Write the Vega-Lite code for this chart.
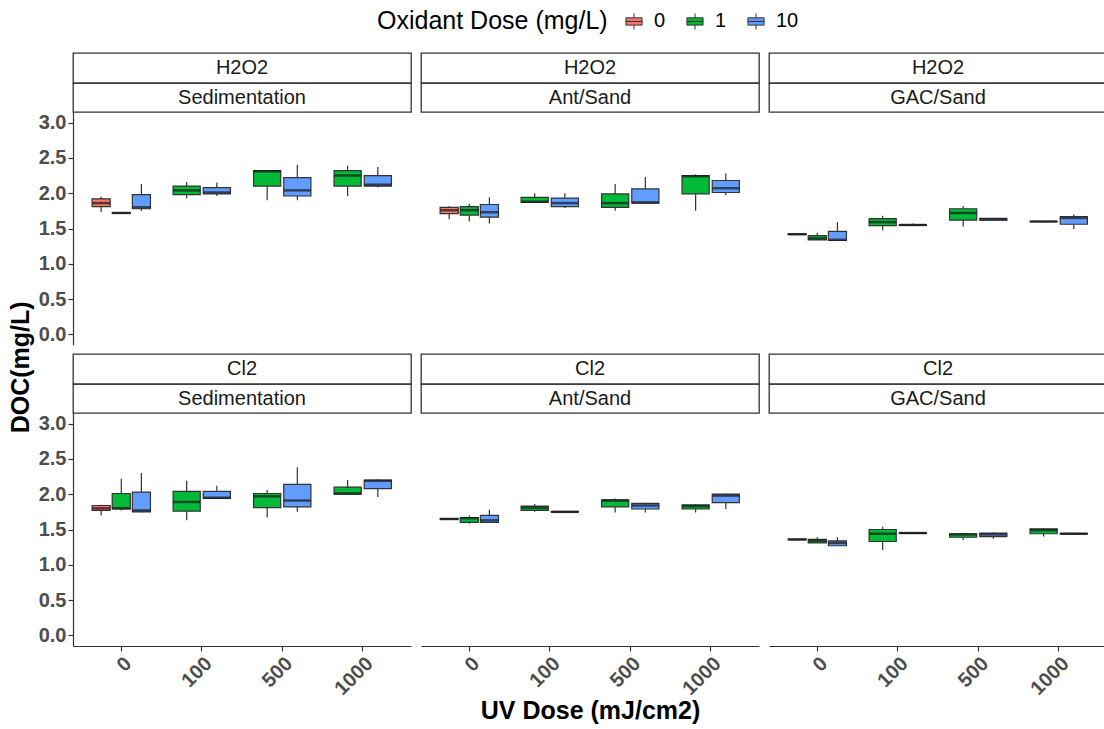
{
"$schema":"https://vega.github.io/schema/vega-lite/v6.json",
"padding":{"left":9,"top":11,"right":0,"bottom":1},
"datasets":{"box":[
{"o":"H2O2","t":"Sedimentation","u":"0","d":"0","lo":1.73,"q1":1.81,"md":1.86,"q3":1.92,"hi":1.95},
{"o":"H2O2","t":"Sedimentation","u":"0","d":"1","lo":1.715,"q1":1.715,"md":1.72,"q3":1.725,"hi":1.725},
{"o":"H2O2","t":"Sedimentation","u":"0","d":"10","lo":1.75,"q1":1.78,"md":1.80,"q3":1.98,"hi":2.13},
{"o":"H2O2","t":"Sedimentation","u":"100","d":"1","lo":1.93,"q1":1.98,"md":2.04,"q3":2.10,"hi":2.16},
{"o":"H2O2","t":"Sedimentation","u":"100","d":"10","lo":1.96,"q1":1.99,"md":2.01,"q3":2.08,"hi":2.15},
{"o":"H2O2","t":"Sedimentation","u":"500","d":"1","lo":1.90,"q1":2.10,"md":2.31,"q3":2.32,"hi":2.32},
{"o":"H2O2","t":"Sedimentation","u":"500","d":"10","lo":1.90,"q1":1.96,"md":2.04,"q3":2.22,"hi":2.40},
{"o":"H2O2","t":"Sedimentation","u":"1000","d":"1","lo":1.96,"q1":2.10,"md":2.25,"q3":2.32,"hi":2.39},
{"o":"H2O2","t":"Sedimentation","u":"1000","d":"10","lo":2.08,"q1":2.10,"md":2.12,"q3":2.25,"hi":2.37},
{"o":"H2O2","t":"Ant/Sand","u":"0","d":"0","lo":1.63,"q1":1.71,"md":1.76,"q3":1.80,"hi":1.82},
{"o":"H2O2","t":"Ant/Sand","u":"0","d":"1","lo":1.60,"q1":1.69,"md":1.76,"q3":1.81,"hi":1.85},
{"o":"H2O2","t":"Ant/Sand","u":"0","d":"10","lo":1.57,"q1":1.66,"md":1.73,"q3":1.84,"hi":1.94},
{"o":"H2O2","t":"Ant/Sand","u":"100","d":"1","lo":1.86,"q1":1.87,"md":1.88,"q3":1.94,"hi":2.00},
{"o":"H2O2","t":"Ant/Sand","u":"100","d":"10","lo":1.79,"q1":1.81,"md":1.86,"q3":1.93,"hi":2.00},
{"o":"H2O2","t":"Ant/Sand","u":"500","d":"1","lo":1.75,"q1":1.80,"md":1.86,"q3":1.99,"hi":2.13},
{"o":"H2O2","t":"Ant/Sand","u":"500","d":"10","lo":1.86,"q1":1.86,"md":1.87,"q3":2.06,"hi":2.23},
{"o":"H2O2","t":"Ant/Sand","u":"1000","d":"1","lo":1.75,"q1":1.99,"md":2.24,"q3":2.25,"hi":2.27},
{"o":"H2O2","t":"Ant/Sand","u":"1000","d":"10","lo":1.97,"q1":2.01,"md":2.07,"q3":2.18,"hi":2.28},
{"o":"H2O2","t":"GAC/Sand","u":"0","d":"0","lo":1.415,"q1":1.415,"md":1.42,"q3":1.425,"hi":1.425},
{"o":"H2O2","t":"GAC/Sand","u":"0","d":"1","lo":1.34,"q1":1.34,"md":1.36,"q3":1.40,"hi":1.44},
{"o":"H2O2","t":"GAC/Sand","u":"0","d":"10","lo":1.33,"q1":1.33,"md":1.34,"q3":1.46,"hi":1.59},
{"o":"H2O2","t":"GAC/Sand","u":"100","d":"1","lo":1.47,"q1":1.54,"md":1.59,"q3":1.64,"hi":1.68},
{"o":"H2O2","t":"GAC/Sand","u":"100","d":"10","lo":1.545,"q1":1.545,"md":1.55,"q3":1.555,"hi":1.57},
{"o":"H2O2","t":"GAC/Sand","u":"500","d":"1","lo":1.53,"q1":1.62,"md":1.72,"q3":1.78,"hi":1.82},
{"o":"H2O2","t":"GAC/Sand","u":"500","d":"10","lo":1.62,"q1":1.62,"md":1.63,"q3":1.645,"hi":1.65},
{"o":"H2O2","t":"GAC/Sand","u":"1000","d":"1","lo":1.59,"q1":1.595,"md":1.60,"q3":1.60,"hi":1.60},
{"o":"H2O2","t":"GAC/Sand","u":"1000","d":"10","lo":1.49,"q1":1.56,"md":1.65,"q3":1.67,"hi":1.70},
{"o":"Cl2","t":"Sedimentation","u":"0","d":"0","lo":1.70,"q1":1.77,"md":1.80,"q3":1.84,"hi":1.85},
{"o":"Cl2","t":"Sedimentation","u":"0","d":"1","lo":1.77,"q1":1.79,"md":1.80,"q3":2.01,"hi":2.22},
{"o":"Cl2","t":"Sedimentation","u":"0","d":"10","lo":1.74,"q1":1.75,"md":1.77,"q3":2.03,"hi":2.30},
{"o":"Cl2","t":"Sedimentation","u":"100","d":"1","lo":1.63,"q1":1.76,"md":1.89,"q3":2.04,"hi":2.19},
{"o":"Cl2","t":"Sedimentation","u":"100","d":"10","lo":1.94,"q1":1.94,"md":1.95,"q3":2.04,"hi":2.12},
{"o":"Cl2","t":"Sedimentation","u":"500","d":"1","lo":1.67,"q1":1.81,"md":1.97,"q3":2.01,"hi":2.06},
{"o":"Cl2","t":"Sedimentation","u":"500","d":"10","lo":1.75,"q1":1.82,"md":1.91,"q3":2.14,"hi":2.38},
{"o":"Cl2","t":"Sedimentation","u":"1000","d":"1","lo":2.00,"q1":2.00,"md":2.01,"q3":2.10,"hi":2.20},
{"o":"Cl2","t":"Sedimentation","u":"1000","d":"10","lo":1.96,"q1":2.08,"md":2.19,"q3":2.20,"hi":2.21},
{"o":"Cl2","t":"Ant/Sand","u":"0","d":"0","lo":1.64,"q1":1.645,"md":1.65,"q3":1.655,"hi":1.66},
{"o":"Cl2","t":"Ant/Sand","u":"0","d":"1","lo":1.58,"q1":1.60,"md":1.66,"q3":1.67,"hi":1.70},
{"o":"Cl2","t":"Ant/Sand","u":"0","d":"10","lo":1.60,"q1":1.60,"md":1.63,"q3":1.70,"hi":1.78},
{"o":"Cl2","t":"Ant/Sand","u":"100","d":"1","lo":1.75,"q1":1.77,"md":1.81,"q3":1.83,"hi":1.86},
{"o":"Cl2","t":"Ant/Sand","u":"100","d":"10","lo":1.745,"q1":1.745,"md":1.75,"q3":1.755,"hi":1.76},
{"o":"Cl2","t":"Ant/Sand","u":"500","d":"1","lo":1.74,"q1":1.82,"md":1.91,"q3":1.92,"hi":1.94},
{"o":"Cl2","t":"Ant/Sand","u":"500","d":"10","lo":1.74,"q1":1.79,"md":1.84,"q3":1.87,"hi":1.88},
{"o":"Cl2","t":"Ant/Sand","u":"1000","d":"1","lo":1.74,"q1":1.79,"md":1.83,"q3":1.85,"hi":1.86},
{"o":"Cl2","t":"Ant/Sand","u":"1000","d":"10","lo":1.79,"q1":1.88,"md":1.98,"q3":2.00,"hi":2.01},
{"o":"Cl2","t":"GAC/Sand","u":"0","d":"0","lo":1.355,"q1":1.355,"md":1.36,"q3":1.365,"hi":1.365},
{"o":"Cl2","t":"GAC/Sand","u":"0","d":"1","lo":1.31,"q1":1.31,"md":1.34,"q3":1.36,"hi":1.39},
{"o":"Cl2","t":"GAC/Sand","u":"0","d":"10","lo":1.27,"q1":1.27,"md":1.31,"q3":1.34,"hi":1.39},
{"o":"Cl2","t":"GAC/Sand","u":"100","d":"1","lo":1.21,"q1":1.33,"md":1.44,"q3":1.50,"hi":1.54},
{"o":"Cl2","t":"GAC/Sand","u":"100","d":"10","lo":1.445,"q1":1.445,"md":1.45,"q3":1.455,"hi":1.455},
{"o":"Cl2","t":"GAC/Sand","u":"500","d":"1","lo":1.35,"q1":1.39,"md":1.43,"q3":1.44,"hi":1.45},
{"o":"Cl2","t":"GAC/Sand","u":"500","d":"10","lo":1.37,"q1":1.40,"md":1.43,"q3":1.45,"hi":1.46},
{"o":"Cl2","t":"GAC/Sand","u":"1000","d":"1","lo":1.40,"q1":1.44,"md":1.49,"q3":1.51,"hi":1.52},
{"o":"Cl2","t":"GAC/Sand","u":"1000","d":"10","lo":1.435,"q1":1.435,"md":1.44,"q3":1.445,"hi":1.445}
]},
"data":{"name":"box"},
"title":{"text":"DOC(mg/L)","orient":"left","anchor":"middle","frame":"bounds","fontSize":25,"fontWeight":"bold","color":"#000000","offset":4},
"vconcat":[
{"hconcat":[
{"vconcat":[
{"width":338,"height":30,"view":{"stroke":"#333333","strokeWidth":1.3},"transform":[{"filter":"datum.o == 'H2O2' && datum.t == 'Sedimentation'"},{"aggregate":[{"op":"count","as":"c"}],"groupby":["o"]}],"mark":{"type":"text","fontSize":20,"color":"#1a1a1a"},"encoding":{"text":{"field":"o"}}},
{"width":338,"height":29,"view":{"stroke":"#333333","strokeWidth":1.3},"transform":[{"filter":"datum.o == 'H2O2' && datum.t == 'Sedimentation'"},{"aggregate":[{"op":"count","as":"c"}],"groupby":["t"]}],"mark":{"type":"text","fontSize":20,"color":"#1a1a1a"},"encoding":{"text":{"field":"t"}}},
{"width":338,"height":233,
 "transform":[{"filter":"datum.o == 'H2O2' && datum.t == 'Sedimentation'"},{"joinaggregate":[{"op":"count","as":"n"}],"groupby":["u"]}],
 "encoding":{"x":{"field":"u","type":"nominal","title":null,"scale":{"domain":["0","100","500","1000"],"paddingInner":0.25,"paddingOuter":0.225},"axis":null}},
 "layer":[
  {"transform":[{"filter":"datum.n == 3"}],"encoding":{"xOffset":{"field":"d","type":"nominal","scale":{"domain":["0","1","10"],"paddingInner":0.1,"paddingOuter":0.05}}},
   "layer":[
    {"mark":{"type":"rule","color":"#333333","strokeWidth":1.2},"encoding":{"y":{"field":"lo","type":"quantitative","title":null,"scale":{"domain":[-0.15,3.15],"nice":false},"axis":{"values":[0,0.5,1,1.5,2,2.5,3],"format":".1f"}},"y2":{"field":"hi"}}},
    {"mark":{"type":"bar","stroke":"#333333","strokeWidth":1.2},"encoding":{"y":{"field":"q1","type":"quantitative","title":null,"scale":{"domain":[-0.15,3.15],"nice":false},"axis":{"values":[0,0.5,1,1.5,2,2.5,3],"format":".1f"}},"y2":{"field":"q3"},"fill":{"field":"d","type":"nominal","title":"Oxidant Dose (mg/L)","scale":{"domain":["0","1","10"],"range":["#F8766D","#00BA38","#619CFF"]}}}},
    {"mark":{"type":"tick","color":"#1a1a1a","thickness":2.5,"size":18},"encoding":{"y":{"field":"md","type":"quantitative","title":null,"scale":{"domain":[-0.15,3.15],"nice":false},"axis":{"values":[0,0.5,1,1.5,2,2.5,3],"format":".1f"}}}}
   ]},
  {"transform":[{"filter":"datum.n == 2"}],"encoding":{"xOffset":{"field":"d","type":"nominal","scale":{"domain":["1","10"],"paddingInner":0.1,"paddingOuter":0.05}}},
   "layer":[
    {"mark":{"type":"rule","color":"#333333","strokeWidth":1.2},"encoding":{"y":{"field":"lo","type":"quantitative","title":null,"scale":{"domain":[-0.15,3.15],"nice":false},"axis":{"values":[0,0.5,1,1.5,2,2.5,3],"format":".1f"}},"y2":{"field":"hi"}}},
    {"mark":{"type":"bar","stroke":"#333333","strokeWidth":1.2},"encoding":{"y":{"field":"q1","type":"quantitative","title":null,"scale":{"domain":[-0.15,3.15],"nice":false},"axis":{"values":[0,0.5,1,1.5,2,2.5,3],"format":".1f"}},"y2":{"field":"q3"},"fill":{"field":"d","type":"nominal","title":"Oxidant Dose (mg/L)","scale":{"domain":["0","1","10"],"range":["#F8766D","#00BA38","#619CFF"]}}}},
    {"mark":{"type":"tick","color":"#1a1a1a","thickness":2.5,"size":27},"encoding":{"y":{"field":"md","type":"quantitative","title":null,"scale":{"domain":[-0.15,3.15],"nice":false},"axis":{"values":[0,0.5,1,1.5,2,2.5,3],"format":".1f"}}}}
   ]}
 ],
 "resolve":{"scale":{"xOffset":"independent"}}}
],"spacing":0,"bounds":"flush"},
{"vconcat":[
{"width":338,"height":30,"view":{"stroke":"#333333","strokeWidth":1.3},"transform":[{"filter":"datum.o == 'H2O2' && datum.t == 'Ant/Sand'"},{"aggregate":[{"op":"count","as":"c"}],"groupby":["o"]}],"mark":{"type":"text","fontSize":20,"color":"#1a1a1a"},"encoding":{"text":{"field":"o"}}},
{"width":338,"height":29,"view":{"stroke":"#333333","strokeWidth":1.3},"transform":[{"filter":"datum.o == 'H2O2' && datum.t == 'Ant/Sand'"},{"aggregate":[{"op":"count","as":"c"}],"groupby":["t"]}],"mark":{"type":"text","fontSize":20,"color":"#1a1a1a"},"encoding":{"text":{"field":"t"}}},
{"width":338,"height":233,
 "transform":[{"filter":"datum.o == 'H2O2' && datum.t == 'Ant/Sand'"},{"joinaggregate":[{"op":"count","as":"n"}],"groupby":["u"]}],
 "encoding":{"x":{"field":"u","type":"nominal","title":null,"scale":{"domain":["0","100","500","1000"],"paddingInner":0.25,"paddingOuter":0.225},"axis":null}},
 "layer":[
  {"transform":[{"filter":"datum.n == 3"}],"encoding":{"xOffset":{"field":"d","type":"nominal","scale":{"domain":["0","1","10"],"paddingInner":0.1,"paddingOuter":0.05}}},
   "layer":[
    {"mark":{"type":"rule","color":"#333333","strokeWidth":1.2},"encoding":{"y":{"field":"lo","type":"quantitative","title":null,"scale":{"domain":[-0.15,3.15],"nice":false},"axis":null},"y2":{"field":"hi"}}},
    {"mark":{"type":"bar","stroke":"#333333","strokeWidth":1.2},"encoding":{"y":{"field":"q1","type":"quantitative","title":null,"scale":{"domain":[-0.15,3.15],"nice":false},"axis":null},"y2":{"field":"q3"},"fill":{"field":"d","type":"nominal","title":"Oxidant Dose (mg/L)","scale":{"domain":["0","1","10"],"range":["#F8766D","#00BA38","#619CFF"]}}}},
    {"mark":{"type":"tick","color":"#1a1a1a","thickness":2.5,"size":18},"encoding":{"y":{"field":"md","type":"quantitative","title":null,"scale":{"domain":[-0.15,3.15],"nice":false},"axis":null}}}
   ]},
  {"transform":[{"filter":"datum.n == 2"}],"encoding":{"xOffset":{"field":"d","type":"nominal","scale":{"domain":["1","10"],"paddingInner":0.1,"paddingOuter":0.05}}},
   "layer":[
    {"mark":{"type":"rule","color":"#333333","strokeWidth":1.2},"encoding":{"y":{"field":"lo","type":"quantitative","title":null,"scale":{"domain":[-0.15,3.15],"nice":false},"axis":null},"y2":{"field":"hi"}}},
    {"mark":{"type":"bar","stroke":"#333333","strokeWidth":1.2},"encoding":{"y":{"field":"q1","type":"quantitative","title":null,"scale":{"domain":[-0.15,3.15],"nice":false},"axis":null},"y2":{"field":"q3"},"fill":{"field":"d","type":"nominal","title":"Oxidant Dose (mg/L)","scale":{"domain":["0","1","10"],"range":["#F8766D","#00BA38","#619CFF"]}}}},
    {"mark":{"type":"tick","color":"#1a1a1a","thickness":2.5,"size":27},"encoding":{"y":{"field":"md","type":"quantitative","title":null,"scale":{"domain":[-0.15,3.15],"nice":false},"axis":null}}}
   ]}
 ],
 "resolve":{"scale":{"xOffset":"independent"}}}
],"spacing":0,"bounds":"flush"},
{"vconcat":[
{"width":338,"height":30,"view":{"stroke":"#333333","strokeWidth":1.3},"transform":[{"filter":"datum.o == 'H2O2' && datum.t == 'GAC/Sand'"},{"aggregate":[{"op":"count","as":"c"}],"groupby":["o"]}],"mark":{"type":"text","fontSize":20,"color":"#1a1a1a"},"encoding":{"text":{"field":"o"}}},
{"width":338,"height":29,"view":{"stroke":"#333333","strokeWidth":1.3},"transform":[{"filter":"datum.o == 'H2O2' && datum.t == 'GAC/Sand'"},{"aggregate":[{"op":"count","as":"c"}],"groupby":["t"]}],"mark":{"type":"text","fontSize":20,"color":"#1a1a1a"},"encoding":{"text":{"field":"t"}}},
{"width":338,"height":233,
 "transform":[{"filter":"datum.o == 'H2O2' && datum.t == 'GAC/Sand'"},{"joinaggregate":[{"op":"count","as":"n"}],"groupby":["u"]}],
 "encoding":{"x":{"field":"u","type":"nominal","title":null,"scale":{"domain":["0","100","500","1000"],"paddingInner":0.25,"paddingOuter":0.225},"axis":null}},
 "layer":[
  {"transform":[{"filter":"datum.n == 3"}],"encoding":{"xOffset":{"field":"d","type":"nominal","scale":{"domain":["0","1","10"],"paddingInner":0.1,"paddingOuter":0.05}}},
   "layer":[
    {"mark":{"type":"rule","color":"#333333","strokeWidth":1.2},"encoding":{"y":{"field":"lo","type":"quantitative","title":null,"scale":{"domain":[-0.15,3.15],"nice":false},"axis":null},"y2":{"field":"hi"}}},
    {"mark":{"type":"bar","stroke":"#333333","strokeWidth":1.2},"encoding":{"y":{"field":"q1","type":"quantitative","title":null,"scale":{"domain":[-0.15,3.15],"nice":false},"axis":null},"y2":{"field":"q3"},"fill":{"field":"d","type":"nominal","title":"Oxidant Dose (mg/L)","scale":{"domain":["0","1","10"],"range":["#F8766D","#00BA38","#619CFF"]}}}},
    {"mark":{"type":"tick","color":"#1a1a1a","thickness":2.5,"size":18},"encoding":{"y":{"field":"md","type":"quantitative","title":null,"scale":{"domain":[-0.15,3.15],"nice":false},"axis":null}}}
   ]},
  {"transform":[{"filter":"datum.n == 2"}],"encoding":{"xOffset":{"field":"d","type":"nominal","scale":{"domain":["1","10"],"paddingInner":0.1,"paddingOuter":0.05}}},
   "layer":[
    {"mark":{"type":"rule","color":"#333333","strokeWidth":1.2},"encoding":{"y":{"field":"lo","type":"quantitative","title":null,"scale":{"domain":[-0.15,3.15],"nice":false},"axis":null},"y2":{"field":"hi"}}},
    {"mark":{"type":"bar","stroke":"#333333","strokeWidth":1.2},"encoding":{"y":{"field":"q1","type":"quantitative","title":null,"scale":{"domain":[-0.15,3.15],"nice":false},"axis":null},"y2":{"field":"q3"},"fill":{"field":"d","type":"nominal","title":"Oxidant Dose (mg/L)","scale":{"domain":["0","1","10"],"range":["#F8766D","#00BA38","#619CFF"]}}}},
    {"mark":{"type":"tick","color":"#1a1a1a","thickness":2.5,"size":27},"encoding":{"y":{"field":"md","type":"quantitative","title":null,"scale":{"domain":[-0.15,3.15],"nice":false},"axis":null}}}
   ]}
 ],
 "resolve":{"scale":{"xOffset":"independent"}}}
],"spacing":0,"bounds":"flush"}
],"spacing":8,"resolve":{"scale":{"x":"independent","y":"independent","xOffset":"independent"}}},
{"hconcat":[
{"vconcat":[
{"width":338,"height":30,"view":{"stroke":"#333333","strokeWidth":1.3},"transform":[{"filter":"datum.o == 'Cl2' && datum.t == 'Sedimentation'"},{"aggregate":[{"op":"count","as":"c"}],"groupby":["o"]}],"mark":{"type":"text","fontSize":20,"color":"#1a1a1a"},"encoding":{"text":{"field":"o"}}},
{"width":338,"height":29,"view":{"stroke":"#333333","strokeWidth":1.3},"transform":[{"filter":"datum.o == 'Cl2' && datum.t == 'Sedimentation'"},{"aggregate":[{"op":"count","as":"c"}],"groupby":["t"]}],"mark":{"type":"text","fontSize":20,"color":"#1a1a1a"},"encoding":{"text":{"field":"t"}}},
{"width":338,"height":233,
 "transform":[{"filter":"datum.o == 'Cl2' && datum.t == 'Sedimentation'"},{"joinaggregate":[{"op":"count","as":"n"}],"groupby":["u"]}],
 "encoding":{"x":{"field":"u","type":"nominal","title":null,"scale":{"domain":["0","100","500","1000"],"paddingInner":0.25,"paddingOuter":0.225},"axis":{"labelAngle":-45,"labelAlign":"right","labelBaseline":"top"}}},
 "layer":[
  {"transform":[{"filter":"datum.n == 3"}],"encoding":{"xOffset":{"field":"d","type":"nominal","scale":{"domain":["0","1","10"],"paddingInner":0.1,"paddingOuter":0.05}}},
   "layer":[
    {"mark":{"type":"rule","color":"#333333","strokeWidth":1.2},"encoding":{"y":{"field":"lo","type":"quantitative","title":null,"scale":{"domain":[-0.15,3.15],"nice":false},"axis":{"values":[0,0.5,1,1.5,2,2.5,3],"format":".1f"}},"y2":{"field":"hi"}}},
    {"mark":{"type":"bar","stroke":"#333333","strokeWidth":1.2},"encoding":{"y":{"field":"q1","type":"quantitative","title":null,"scale":{"domain":[-0.15,3.15],"nice":false},"axis":{"values":[0,0.5,1,1.5,2,2.5,3],"format":".1f"}},"y2":{"field":"q3"},"fill":{"field":"d","type":"nominal","title":"Oxidant Dose (mg/L)","scale":{"domain":["0","1","10"],"range":["#F8766D","#00BA38","#619CFF"]}}}},
    {"mark":{"type":"tick","color":"#1a1a1a","thickness":2.5,"size":18},"encoding":{"y":{"field":"md","type":"quantitative","title":null,"scale":{"domain":[-0.15,3.15],"nice":false},"axis":{"values":[0,0.5,1,1.5,2,2.5,3],"format":".1f"}}}}
   ]},
  {"transform":[{"filter":"datum.n == 2"}],"encoding":{"xOffset":{"field":"d","type":"nominal","scale":{"domain":["1","10"],"paddingInner":0.1,"paddingOuter":0.05}}},
   "layer":[
    {"mark":{"type":"rule","color":"#333333","strokeWidth":1.2},"encoding":{"y":{"field":"lo","type":"quantitative","title":null,"scale":{"domain":[-0.15,3.15],"nice":false},"axis":{"values":[0,0.5,1,1.5,2,2.5,3],"format":".1f"}},"y2":{"field":"hi"}}},
    {"mark":{"type":"bar","stroke":"#333333","strokeWidth":1.2},"encoding":{"y":{"field":"q1","type":"quantitative","title":null,"scale":{"domain":[-0.15,3.15],"nice":false},"axis":{"values":[0,0.5,1,1.5,2,2.5,3],"format":".1f"}},"y2":{"field":"q3"},"fill":{"field":"d","type":"nominal","title":"Oxidant Dose (mg/L)","scale":{"domain":["0","1","10"],"range":["#F8766D","#00BA38","#619CFF"]}}}},
    {"mark":{"type":"tick","color":"#1a1a1a","thickness":2.5,"size":27},"encoding":{"y":{"field":"md","type":"quantitative","title":null,"scale":{"domain":[-0.15,3.15],"nice":false},"axis":{"values":[0,0.5,1,1.5,2,2.5,3],"format":".1f"}}}}
   ]}
 ],
 "resolve":{"scale":{"xOffset":"independent"}}}
],"spacing":0,"bounds":"flush"},
{"vconcat":[
{"width":338,"height":30,"view":{"stroke":"#333333","strokeWidth":1.3},"transform":[{"filter":"datum.o == 'Cl2' && datum.t == 'Ant/Sand'"},{"aggregate":[{"op":"count","as":"c"}],"groupby":["o"]}],"mark":{"type":"text","fontSize":20,"color":"#1a1a1a"},"encoding":{"text":{"field":"o"}}},
{"width":338,"height":29,"view":{"stroke":"#333333","strokeWidth":1.3},"transform":[{"filter":"datum.o == 'Cl2' && datum.t == 'Ant/Sand'"},{"aggregate":[{"op":"count","as":"c"}],"groupby":["t"]}],"mark":{"type":"text","fontSize":20,"color":"#1a1a1a"},"encoding":{"text":{"field":"t"}}},
{"width":338,"height":233,
 "transform":[{"filter":"datum.o == 'Cl2' && datum.t == 'Ant/Sand'"},{"joinaggregate":[{"op":"count","as":"n"}],"groupby":["u"]}],
 "encoding":{"x":{"field":"u","type":"nominal","title":"UV Dose (mJ/cm2)","scale":{"domain":["0","100","500","1000"],"paddingInner":0.25,"paddingOuter":0.225},"axis":{"labelAngle":-45,"labelAlign":"right","labelBaseline":"top","titlePadding":0}}},
 "layer":[
  {"transform":[{"filter":"datum.n == 3"}],"encoding":{"xOffset":{"field":"d","type":"nominal","scale":{"domain":["0","1","10"],"paddingInner":0.1,"paddingOuter":0.05}}},
   "layer":[
    {"mark":{"type":"rule","color":"#333333","strokeWidth":1.2},"encoding":{"y":{"field":"lo","type":"quantitative","title":null,"scale":{"domain":[-0.15,3.15],"nice":false},"axis":null},"y2":{"field":"hi"}}},
    {"mark":{"type":"bar","stroke":"#333333","strokeWidth":1.2},"encoding":{"y":{"field":"q1","type":"quantitative","title":null,"scale":{"domain":[-0.15,3.15],"nice":false},"axis":null},"y2":{"field":"q3"},"fill":{"field":"d","type":"nominal","title":"Oxidant Dose (mg/L)","scale":{"domain":["0","1","10"],"range":["#F8766D","#00BA38","#619CFF"]}}}},
    {"mark":{"type":"tick","color":"#1a1a1a","thickness":2.5,"size":18},"encoding":{"y":{"field":"md","type":"quantitative","title":null,"scale":{"domain":[-0.15,3.15],"nice":false},"axis":null}}}
   ]},
  {"transform":[{"filter":"datum.n == 2"}],"encoding":{"xOffset":{"field":"d","type":"nominal","scale":{"domain":["1","10"],"paddingInner":0.1,"paddingOuter":0.05}}},
   "layer":[
    {"mark":{"type":"rule","color":"#333333","strokeWidth":1.2},"encoding":{"y":{"field":"lo","type":"quantitative","title":null,"scale":{"domain":[-0.15,3.15],"nice":false},"axis":null},"y2":{"field":"hi"}}},
    {"mark":{"type":"bar","stroke":"#333333","strokeWidth":1.2},"encoding":{"y":{"field":"q1","type":"quantitative","title":null,"scale":{"domain":[-0.15,3.15],"nice":false},"axis":null},"y2":{"field":"q3"},"fill":{"field":"d","type":"nominal","title":"Oxidant Dose (mg/L)","scale":{"domain":["0","1","10"],"range":["#F8766D","#00BA38","#619CFF"]}}}},
    {"mark":{"type":"tick","color":"#1a1a1a","thickness":2.5,"size":27},"encoding":{"y":{"field":"md","type":"quantitative","title":null,"scale":{"domain":[-0.15,3.15],"nice":false},"axis":null}}}
   ]}
 ],
 "resolve":{"scale":{"xOffset":"independent"}}}
],"spacing":0,"bounds":"flush"},
{"vconcat":[
{"width":338,"height":30,"view":{"stroke":"#333333","strokeWidth":1.3},"transform":[{"filter":"datum.o == 'Cl2' && datum.t == 'GAC/Sand'"},{"aggregate":[{"op":"count","as":"c"}],"groupby":["o"]}],"mark":{"type":"text","fontSize":20,"color":"#1a1a1a"},"encoding":{"text":{"field":"o"}}},
{"width":338,"height":29,"view":{"stroke":"#333333","strokeWidth":1.3},"transform":[{"filter":"datum.o == 'Cl2' && datum.t == 'GAC/Sand'"},{"aggregate":[{"op":"count","as":"c"}],"groupby":["t"]}],"mark":{"type":"text","fontSize":20,"color":"#1a1a1a"},"encoding":{"text":{"field":"t"}}},
{"width":338,"height":233,
 "transform":[{"filter":"datum.o == 'Cl2' && datum.t == 'GAC/Sand'"},{"joinaggregate":[{"op":"count","as":"n"}],"groupby":["u"]}],
 "encoding":{"x":{"field":"u","type":"nominal","title":null,"scale":{"domain":["0","100","500","1000"],"paddingInner":0.25,"paddingOuter":0.225},"axis":{"labelAngle":-45,"labelAlign":"right","labelBaseline":"top"}}},
 "layer":[
  {"transform":[{"filter":"datum.n == 3"}],"encoding":{"xOffset":{"field":"d","type":"nominal","scale":{"domain":["0","1","10"],"paddingInner":0.1,"paddingOuter":0.05}}},
   "layer":[
    {"mark":{"type":"rule","color":"#333333","strokeWidth":1.2},"encoding":{"y":{"field":"lo","type":"quantitative","title":null,"scale":{"domain":[-0.15,3.15],"nice":false},"axis":null},"y2":{"field":"hi"}}},
    {"mark":{"type":"bar","stroke":"#333333","strokeWidth":1.2},"encoding":{"y":{"field":"q1","type":"quantitative","title":null,"scale":{"domain":[-0.15,3.15],"nice":false},"axis":null},"y2":{"field":"q3"},"fill":{"field":"d","type":"nominal","title":"Oxidant Dose (mg/L)","scale":{"domain":["0","1","10"],"range":["#F8766D","#00BA38","#619CFF"]}}}},
    {"mark":{"type":"tick","color":"#1a1a1a","thickness":2.5,"size":18},"encoding":{"y":{"field":"md","type":"quantitative","title":null,"scale":{"domain":[-0.15,3.15],"nice":false},"axis":null}}}
   ]},
  {"transform":[{"filter":"datum.n == 2"}],"encoding":{"xOffset":{"field":"d","type":"nominal","scale":{"domain":["1","10"],"paddingInner":0.1,"paddingOuter":0.05}}},
   "layer":[
    {"mark":{"type":"rule","color":"#333333","strokeWidth":1.2},"encoding":{"y":{"field":"lo","type":"quantitative","title":null,"scale":{"domain":[-0.15,3.15],"nice":false},"axis":null},"y2":{"field":"hi"}}},
    {"mark":{"type":"bar","stroke":"#333333","strokeWidth":1.2},"encoding":{"y":{"field":"q1","type":"quantitative","title":null,"scale":{"domain":[-0.15,3.15],"nice":false},"axis":null},"y2":{"field":"q3"},"fill":{"field":"d","type":"nominal","title":"Oxidant Dose (mg/L)","scale":{"domain":["0","1","10"],"range":["#F8766D","#00BA38","#619CFF"]}}}},
    {"mark":{"type":"tick","color":"#1a1a1a","thickness":2.5,"size":27},"encoding":{"y":{"field":"md","type":"quantitative","title":null,"scale":{"domain":[-0.15,3.15],"nice":false},"axis":null}}}
   ]}
 ],
 "resolve":{"scale":{"xOffset":"independent"}}}
],"spacing":0,"bounds":"flush"}
],"spacing":8,"resolve":{"scale":{"x":"independent","y":"independent","xOffset":"independent"}}}
],
"spacing":8,
"resolve":{"scale":{"x":"independent","y":"independent","xOffset":"independent"}},
"config":{
 "font":"Liberation Sans",
 "view":{"stroke":null},
 "axis":{"domainColor":"#333333","tickColor":"#333333","labelColor":"#4d4d4d","labelFontWeight":"bold","labelFontSize":20,"tickSize":5,"grid":false,"titleFontSize":25,"titleFontWeight":"bold","titleColor":"#000000","domainWidth":1.2,"tickWidth":1.2,"labelPadding":2},
 "legend":{"orient":"none","legendX":304,"legendY":-42,"direction":"horizontal","titleOrient":"left","titleLimit":400,"titlePadding":16,"titleFontSize":25,"titleFontWeight":"normal","titleColor":"#000000","labelFontSize":20,"labelColor":"#000000","symbolType":"M-1,-0.45H1V0.45H-1Z M-1,0H1 M0,-0.45V-1 M0,0.45V1","symbolSize":260,"symbolStrokeColor":"#333333","symbolStrokeWidth":1,"symbolOpacity":1,"columnPadding":18,"labelOffset":10}
}
}
